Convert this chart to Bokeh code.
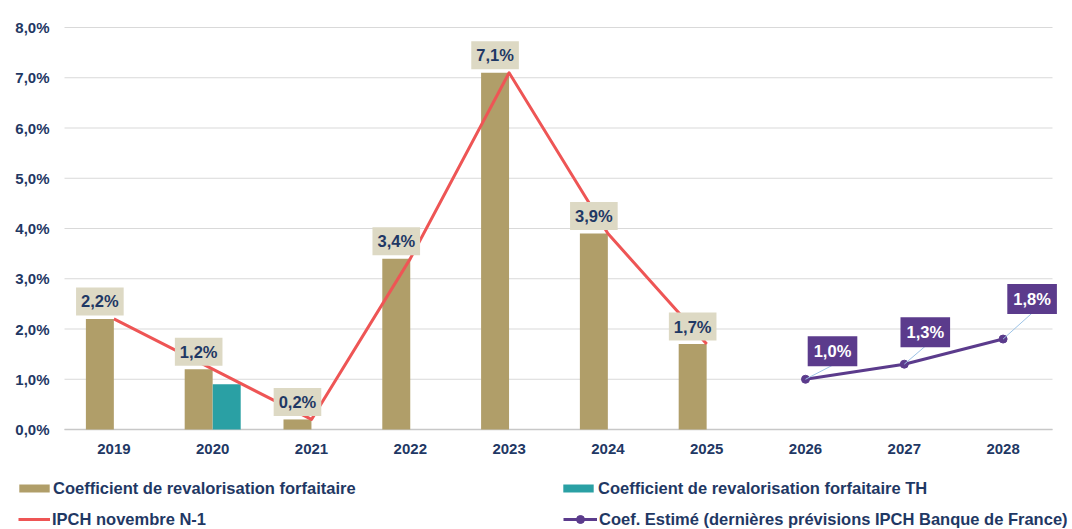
from bokeh.plotting import figure
from bokeh.models import ColumnDataSource, Range1d, Legend, LegendItem
from bokeh.transform import dodge
from bokeh.core.properties import value
from bokeh.embed import file_html
from bokeh.resources import INLINE

# ---------------- data ----------------
years = ["2019", "2020", "2021", "2022", "2023", "2024", "2025", "2026", "2027", "2028"]

coef_years = ["2019", "2020", "2021", "2022", "2023", "2024", "2025"]
coef_values = [2.2, 1.2, 0.2, 3.4, 7.1, 3.9, 1.7]
coef_labels = ["2,2%", "1,2%", "0,2%", "3,4%", "7,1%", "3,9%", "1,7%"]

th_years = ["2020"]
th_values = [0.9]

ipch_years = ["2019", "2020", "2021", "2022", "2023", "2024", "2025"]
ipch_values = [2.2, 1.2, 0.2, 3.4, 7.1, 3.9, 1.7]

est_years = ["2026", "2027", "2028"]
est_values = [1.0, 1.3, 1.8]
est_labels = ["1,0%", "1,3%", "1,8%"]

y_ticks = [0, 1, 2, 3, 4, 5, 6, 7, 8]
y_tick_labels = ["0,0%", "1,0%", "2,0%", "3,0%", "4,0%", "5,0%", "6,0%", "7,0%", "8,0%"]

# ---------------- style ----------------
TAN = "#B09E69"
TEAL = "#2AA0A4"
RED = "#EE5555"
PURPLE = "#5B3B8C"
NAVY = "#1F3864"
LBL_BG = "#DDD9C4"
GRID = "#D9D9D9"
AXIS = "#C8C8C8"
LEADER = "#9DC3E6"
FONT = value("Liberation Sans")

# label placement of estimated values (screen px, relative to point)
est_lbl_dx = [27, 21, 29]
est_lbl_dy = [-28, -32, -40]
EST_BOX_HALF_H = 14

# ---------------- geometry (plot area inside the canvas) ----------------
W, H = 1072, 529
PLOT_L, PLOT_R, PLOT_T, PLOT_B = 64, 1052, 27, 429   # pixel box of the category/value area
px_per_cat = (PLOT_R - PLOT_L) / len(years)
px_per_pct = (PLOT_B - PLOT_T) / (y_ticks[-1] - y_ticks[0])

x_range = Range1d(-PLOT_L / px_per_cat, (W - PLOT_L) / px_per_cat)
y_range = Range1d(-(H - PLOT_B) / px_per_pct, y_ticks[-1] + PLOT_T / px_per_pct)

p = figure(x_range=x_range, y_range=y_range, width=W, height=H,
           output_backend="svg", toolbar_location=None,
           x_axis_location=None, y_axis_location=None, min_border=0)
p.outline_line_color = None
p.background_fill_color = "white"
p.border_fill_color = "white"
p.grid.visible = False

pos = {y: i + 0.5 for i, y in enumerate(years)}   # category centres on the x scale

# ---------------- sources ----------------
coef_src = ColumnDataSource(dict(x=[pos[y] for y in coef_years], val=coef_values, lbl=coef_labels))
th_src = ColumnDataSource(dict(x=[pos[y] for y in th_years], val=th_values))
ipch_src = ColumnDataSource(dict(x=[pos[y] for y in ipch_years], val=ipch_values))
est_src = ColumnDataSource(dict(x=[pos[y] for y in est_years], val=est_values, lbl=est_labels,
                                dx=est_lbl_dx, dy=est_lbl_dy))
grid_src = ColumnDataSource(dict(y=y_ticks, lbl=y_tick_labels,
                                 x0=[0] * len(y_ticks), x1=[len(years)] * len(y_ticks)))
xlab_src = ColumnDataSource(dict(x=[pos[y] for y in years], lbl=years, y=[0] * len(years)))

# ---------------- axes: grid, axis line, tick labels ----------------
p.segment(x0="x0", y0="y", x1="x1", y1="y", source=grid_src, line_color=GRID, line_width=1.2)
p.segment(x0=[0], y0=[0], x1=[len(years)], y1=[0], line_color=AXIS, line_width=1.5)

p.text(x="x0", y="y", text="lbl", source=grid_src, x_offset=-15,
       text_align="right", text_baseline="middle", text_font=FONT,
       text_font_style="bold", text_font_size="15px", text_color=NAVY)
p.text(x="x", y="y", text="lbl", source=xlab_src, y_offset=19,
       text_align="center", text_baseline="middle", text_font=FONT,
       text_font_style="bold", text_font_size="15px", text_color=NAVY)

# ---------------- series ----------------
BAR_W = 0.283
OFF = 0.142

r_coef = p.vbar(x=dodge("x", -OFF), top="val", width=BAR_W,
                source=coef_src, fill_color=TAN, line_color=None)
r_th = p.vbar(x=dodge("x", OFF), top="val", width=BAR_W,
              source=th_src, fill_color=TEAL, line_color=None)

r_ipch = p.line(x="x", y="val", source=ipch_src, line_color=RED, line_width=3,
                line_join="round")

r_est_line = p.line(x="x", y="val", source=est_src, line_color=PURPLE, line_width=3)
r_est_pts = p.scatter(x="x", y="val", source=est_src, size=8, marker="circle",
                      fill_color=PURPLE, line_color=PURPLE)

# leader lines from estimated points to their labels
lead_src = ColumnDataSource(dict(
    x0=[pos[y] for y in est_years], y0=est_values,
    x1=[pos[y] + dx / px_per_cat for y, dx in zip(est_years, est_lbl_dx)],
    y1=[v + (-dy - EST_BOX_HALF_H) / px_per_pct for v, dy in zip(est_values, est_lbl_dy)]))
p.segment(x0="x0", y0="y0", x1="x1", y1="y1", source=lead_src, line_color=LEADER, line_width=1)

# data labels
p.text(x=dodge("x", -OFF), y="val", text="lbl", source=coef_src,
       y_offset=-17.5, text_align="center", text_baseline="middle",
       text_font=FONT, text_font_style="bold", text_font_size="16.5px", text_color=NAVY,
       background_fill_color=LBL_BG, padding=5)

p.text(x="x", y="val", text="lbl", source=est_src, x_offset="dx", y_offset="dy",
       text_align="center", text_baseline="middle",
       text_font=FONT, text_font_style="bold", text_font_size="16.5px", text_color="white",
       background_fill_color=PURPLE, padding=6)

# ---------------- legends ----------------
def add_legend(label, renderers, x, y, gw, gh, standoff):
    leg = Legend(items=[LegendItem(label=label, renderers=renderers)],
                 location=(x, y), orientation="vertical", padding=0, margin=0,
                 border_line_color=None, background_fill_alpha=0,
                 glyph_width=gw, glyph_height=gh, label_standoff=standoff,
                 label_height=20, spacing=0,
                 label_text_font="Liberation Sans", label_text_font_style="bold",
                 label_text_font_size="16.5px", label_text_color=NAVY)
    p.add_layout(leg)

ROW1 = H - 488 - 10
ROW2 = H - 519 - 10
add_legend("Coefficient de revalorisation forfaitaire", [r_coef], 15, ROW1, 38, 10, 0)
add_legend("Coefficient de revalorisation forfaitaire TH", [r_th], 559, ROW1, 38, 10, 1)
add_legend("IPCH novembre N-1", [r_ipch], 18, ROW2, 32, 20, 2)
add_legend("Coef. Estimé (dernières prévisions IPCH Banque de France)",
           [r_est_line, r_est_pts], 563, ROW2, 34, 20, 2)

open("out.html", "w").write(file_html(p, INLINE))
